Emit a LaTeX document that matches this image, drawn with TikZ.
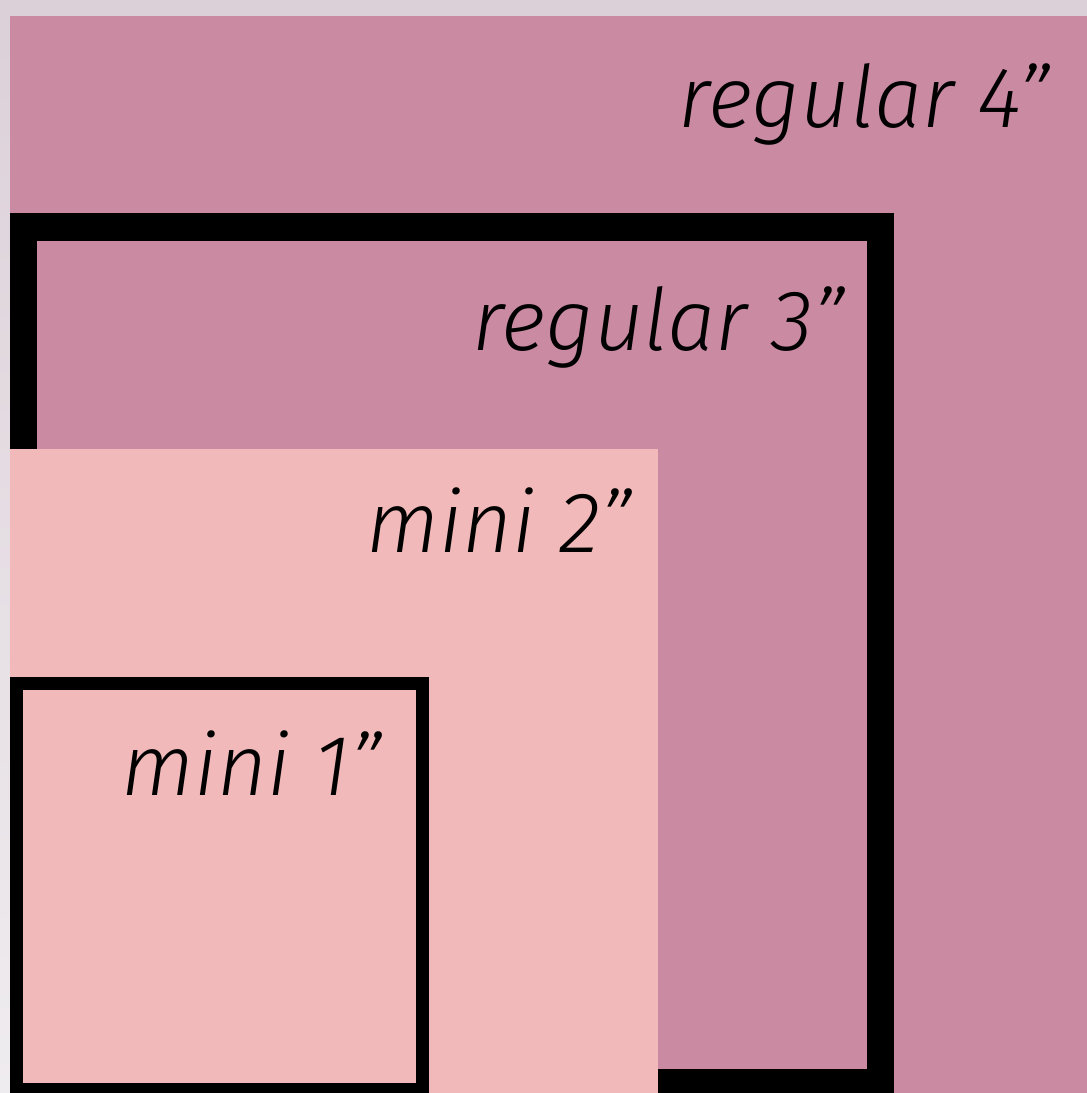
\documentclass[tikz,border=0pt]{standalone}
\usepackage{fontspec}
\setmainfont{Fira Sans Light}[ItalicFont={Fira Sans Light Italic}]
\definecolor{bgtop}{HTML}{DCD0D8}
\definecolor{bgbot}{HTML}{EFECEF}
\definecolor{darkpink}{HTML}{CA8AA2}
\definecolor{lightpink}{HTML}{F1B9B9}
\tikzset{
  lbl/.style={anchor=base east, inner sep=0pt, font=\fontsize{86}{100}\selectfont\itshape, text=black}
}
\begin{document}
\begin{tikzpicture}[x=1pt,y=-1pt]
\useasboundingbox (0,0) rectangle (1087,1093);
\shade[top color=bgtop, bottom color=bgbot] (0,0) rectangle (1087,1093);
% regular 4
\fill[darkpink] (10,16) rectangle (1087,1093);
% regular 3 frame
\fill[black] (10,213) rectangle (894,1093);
\fill[darkpink] (37,241) rectangle (867,1069);
% mini 2
\fill[lightpink] (10,449) rectangle (658,1093);
% mini 1 frame
\fill[black] (10,677) rectangle (429,1093);
\fill[lightpink] (23,690) rectangle (416,1083);
% labels
\node[lbl] (r4) at (1050,127) {regular 4"};
\node[lbl] (r3) at (845,350) {regular 3"};
\node[lbl] (m2) at (632,552) {mini 2"};
\node[lbl] (m1) at (382,795) {mini 1"};
\end{tikzpicture}
\end{document}
